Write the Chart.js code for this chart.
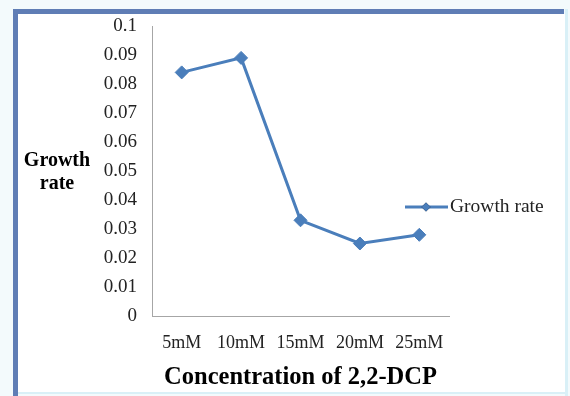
<!DOCTYPE html>
<html><head><meta charset="utf-8">
<script src="https://cdn.jsdelivr.net/npm/chart.js@4/dist/chart.umd.min.js"></script>
<style>html,body{margin:0;padding:0;background:#fff;}#wrap{width:570px;height:396px;position:relative}</style>
</head><body><div id="wrap"><canvas id="c" width="570" height="396"></canvas></div>
<script>
const categories = ['5mM', '10mM', '15mM', '20mM', '25mM'];
const growthRate = [0.084, 0.089, 0.033, 0.025, 0.028];
const yTickLabels = ['0', '0.01', '0.02', '0.03', '0.04', '0.05', '0.06', '0.07', '0.08', '0.09', '0.1'];
const seriesName = 'Growth rate';
const xTitle = 'Concentration of 2,2-DCP';
const yTitle = ['Growth', 'rate'];

const SERIF = '"Liberation Serif", "Times New Roman", serif';
const LINE = '#4a7ebb';

const framePlugin = {
  id: 'frame',
  beforeDraw(chart) {
    const ctx = chart.ctx;
    ctx.save();
    ctx.fillStyle = '#f3fafc';
    ctx.fillRect(0, 0, 570, 396);
    ctx.fillStyle = '#ffffff';
    ctx.fillRect(18, 14, 548, 378);
    ctx.fillStyle = '#d9f0f7';
    ctx.fillRect(565, 9, 3, 387);
    ctx.fillRect(13, 392, 555, 2);
    ctx.fillStyle = '#5f7db5';
    ctx.fillRect(13, 9, 551, 5);
    ctx.fillRect(13, 9, 5, 387);
    ctx.restore();
  },
  afterDraw(chart) {
    const ctx = chart.ctx;
    ctx.save();
    ctx.fillStyle = '#000';
    ctx.font = 'bold 20px ' + SERIF;
    ctx.textAlign = 'center';
    ctx.textBaseline = 'middle';
    ctx.fillText(yTitle[0], 57, 161);
    ctx.fillText(yTitle[1], 57, 184);
    const ly = 207;
    ctx.strokeStyle = LINE;
    ctx.lineWidth = 3;
    ctx.beginPath();
    ctx.moveTo(405, ly);
    ctx.lineTo(448, ly);
    ctx.stroke();
    Chart.helpers.drawPoint(ctx, {pointStyle: 'rectRot', radius: 4.5, rotation: 0}, 426, ly);
    ctx.fillStyle = LINE;
    ctx.fill();
    ctx.fillStyle = '#222';
    ctx.font = '19.5px ' + SERIF;
    ctx.textAlign = 'left';
    ctx.fillText(seriesName, 450, ly);
    ctx.restore();
  }
};

new Chart(document.getElementById('c'), {
  type: 'line',
  data: {
    labels: categories,
    datasets: [{
      label: seriesName,
      data: growthRate,
      borderColor: LINE,
      backgroundColor: LINE,
      borderWidth: 3,
      pointStyle: 'rectRot',
      pointRadius: 6.5,
      pointBackgroundColor: LINE,
      pointBorderColor: LINE,
      pointBorderWidth: 1,
      tension: 0
    }]
  },
  options: {
    responsive: false,
    animation: false,
    devicePixelRatio: 1,
    layout: {padding: {top: 26, right: 121, bottom: 0, left: 0}},
    plugins: {legend: {display: false}, tooltip: {enabled: false}},
    scales: {
      x: {
        offset: true,
        grid: {display: false},
        border: {display: true, color: '#a6a6a6', width: 1},
        ticks: {font: {size: 18, family: SERIF}, color: '#222', padding: 8, maxRotation: 0, autoSkip: false},
        title: {display: true, text: xTitle, color: '#000', font: {size: 24.5, weight: 'bold', family: SERIF}, padding: {top: 0, bottom: 4}},
        afterFit(s) { s.height = 80; }
      },
      y: {
        min: 0, max: 0.1,
        grid: {display: false},
        border: {display: true, color: '#a6a6a6', width: 1},
        ticks: {stepSize: 0.01, font: {size: 19, family: SERIF}, color: '#222', padding: 7,
          callback: (v, i) => yTickLabels[i]},
        afterFit(s) { s.width = 152; }
      }
    }
  },
  plugins: [framePlugin]
});
</script>
</body></html>
